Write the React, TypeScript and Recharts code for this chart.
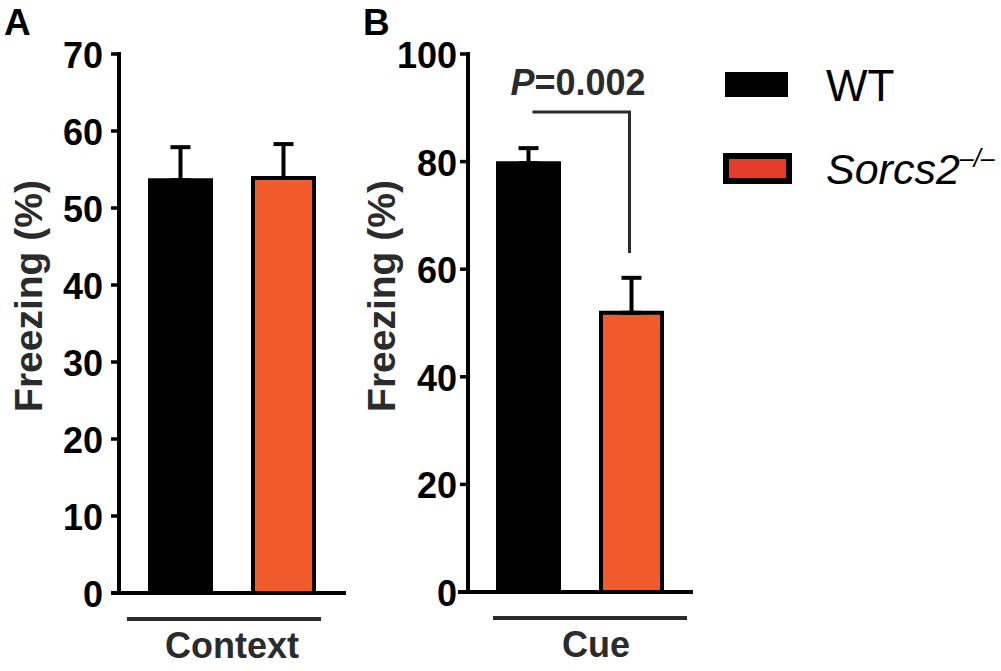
import React from "react";
import { BarChart, Bar, XAxis, YAxis, ErrorBar, Legend } from "recharts";

// values (mean and SEM, % freezing)
const groups = ["Context", "Cue"];
const seriesNames = ["WT", "Sorcs2"];
const wtMean = [53.6, 79.7];
const wtSem = [4.3, 2.8];
const koMean = [53.9, 51.9];
const koSem = [4.4, 6.5];
const ticksA = [0, 10, 20, 30, 40, 50, 60, 70];
const ticksB = [0, 20, 40, 60, 80, 100];
const pValue = "0.002";
const bracketB = [89.2, 63.0]; // bracket height, end of right leg

const FONT = '"Liberation Sans", Arial, Helvetica, sans-serif';
const KO_FILL = "#f15a2b";
const KO_LEGEND = "#e63a2b";
const INK = "#2b2b2b";
const BAR = 61;
const GAP = 42;

const rowFor = (i: number) => ({
  group: groups[i],
  wt: wtMean[i],
  ko: koMean[i],
  wtErr: [0, wtSem[i]],
  koErr: [0, koSem[i]],
});
const dataA = [rowFor(0)];
const dataB = [rowFor(1)];

function YTick(props: any) {
  const { x, y, payload, shift, gap } = props;
  const ax = x + shift;
  return (
    <g>
      <line x1={ax - 8} x2={ax} y1={y} y2={y} stroke="#000" strokeWidth={3.5} />
      <text
        x={ax - gap}
        y={y + 14}
        textAnchor="end"
        fontFamily={FONT}
        fontWeight={700}
        fontSize={36}
        fill="#000"
      >
        {payload.value}
      </text>
    </g>
  );
}

function YLabel({ cx, cy }: { cx: number; cy: number }) {
  return (
    <text
      x={cx}
      y={cy}
      transform={`rotate(-90, ${cx}, ${cy})`}
      textAnchor="middle"
      fontFamily={FONT}
      fontWeight={700}
      fontSize={39}
      fill={INK}
    >
      Freezing (%)
    </text>
  );
}

function GroupLabel(props: any) {
  const { viewBox, text, lineFrom, lineTo, textX } = props;
  const { x, y } = viewBox;
  return (
    <g>
      <line x1={x + lineFrom} x2={x + lineTo} y1={y + 26} y2={y + 26} stroke={INK} strokeWidth={4} />
      <text
        x={x + textX}
        y={y + 65}
        textAnchor="middle"
        fontFamily={FONT}
        fontWeight={700}
        fontSize={36}
        fill={INK}
      >
        {text}
      </text>
    </g>
  );
}

function Bracket(props: any) {
  const { x, y, width, height, value } = props;
  if (!value) return null;
  const base = y + height;
  const k = height / value;
  const right = x + width / 2 - 2;
  const left = right - (BAR + GAP) + 6;
  const top = base - bracketB[0] * k;
  const bottom = base - bracketB[1] * k;
  return (
    <g>
      <polyline
        points={`${left},${top} ${right},${top} ${right},${bottom}`}
        fill="none"
        stroke={INK}
        strokeWidth={3}
      />
      <text
        x={(left + right) / 2 - 3}
        y={top - 17}
        textAnchor="middle"
        fontFamily={FONT}
        fontWeight={700}
        fontSize={36}
        fill={INK}
      >
        <tspan fontStyle="italic">P</tspan>={pValue}
      </text>
    </g>
  );
}

function LegendBox(props: any) {
  const payload = props.payload || [];
  const entries = seriesNames
    .map((n) => payload.find((e: any) => e.value === n))
    .filter(Boolean);
  return (
    <svg width={278} height={200} style={{ display: "block" }}>
      {entries.map((entry: any, i: number) => {
        const top = i === 0 ? 72 : 156;
        return (
          <g key={entry.value}>
            {i === 0 ? (
              <rect x={2} y={top} width={63} height={25} fill="#000" />
            ) : (
              <rect x={3} y={top} width={63} height={25} fill={KO_LEGEND} stroke="#000" strokeWidth={6} />
            )}
            <text
              x={103}
              y={i === 0 ? 101 : 184}
              fontFamily={FONT}
              fontSize={i === 0 ? 44 : 43}
              fontStyle={i === 0 ? "normal" : "italic"}
              fill="#000"
            >
              {entry.value}
              {i === 1 && (
                <tspan fontSize={25} dy={-17}>
                  –/–
                </tspan>
              )}
            </text>
          </g>
        );
      })}
    </svg>
  );
}

function Panel(props: any) {
  const { data, ticks, max, width, yWidth, right, xHeight, shift, gap, pad, label, labelX, group, withLegend } = props;
  return (
    <BarChart
      width={width}
      height={671}
      data={data}
      margin={{ top: 54, right, bottom: 0, left: 0 }}
      barGap={GAP}
      barSize={BAR}
    >
      <XAxis
        dataKey="group"
        tick={false}
        tickLine={false}
        height={xHeight}
        padding={pad}
        axisLine={{ stroke: "#000", strokeWidth: 4 }}
        label={{ content: (p: any) => <GroupLabel {...p} {...group} /> }}
      />
      <YAxis
        domain={[0, max]}
        ticks={ticks}
        interval={0}
        width={yWidth}
        tickSize={0}
        tickMargin={0}
        tickLine={false}
        axisLine={{ stroke: "#000", strokeWidth: 4, strokeLinecap: "square", transform: `translate(${shift},0)` }}
        tick={(p: any) => <YTick {...p} shift={shift} gap={gap} />}
        label={{ content: () => <YLabel cx={labelX} cy={296} /> }}
      />
      {withLegend && (
        <Legend
          layout="vertical"
          align="center"
          verticalAlign="middle"
          wrapperStyle={{ left: 363, top: 0, width: 278, height: 200 }}
          content={(p: any) => <LegendBox {...p} />}
        />
      )}
      <Bar dataKey="wt" name={seriesNames[0]} fill="#000" stroke="#000" strokeWidth={4} isAnimationActive={false}>
        <ErrorBar dataKey="wtErr" direction="y" width={10} stroke="#000" strokeWidth={4} isAnimationActive={false} />
      </Bar>
      <Bar
        dataKey="ko"
        name={seriesNames[1]}
        fill={KO_FILL}
        stroke="#000"
        strokeWidth={4}
        isAnimationActive={false}
        label={label}
      >
        <ErrorBar dataKey="koErr" direction="y" width={10} stroke="#000" strokeWidth={4} isAnimationActive={false} />
      </Bar>
    </BarChart>
  );
}

export default function App() {
  return (
    <div
      style={{
        position: "absolute",
        left: 0,
        top: 0,
        width: 1001,
        height: 671,
        background: "#fff",
        fontFamily: FONT,
        overflow: "hidden",
      }}
    >
      <div style={{ position: "absolute", left: 0, top: 0 }}>
        <Panel
          data={dataA}
          ticks={ticksA}
          max={70}
          width={360}
          yWidth={111}
          right={14}
          xHeight={78}
          shift={8}
          gap={16}
          pad={{ left: 6, right: 0 }}
          labelX={42}
          group={{ text: groups[0], lineFrom: 16, lineTo: 210, textX: 121 }}
        />
      </div>
      <div style={{ position: "absolute", left: 360, top: 0 }}>
        <Panel
          data={dataB}
          ticks={ticksB}
          max={100}
          width={641}
          yWidth={98}
          right={308}
          xHeight={79}
          shift={10}
          gap={11}
          pad={{ left: 8, right: 0 }}
          labelX={35}
          label={(p: any) => <Bracket {...p} />}
          group={{ text: groups[1], lineFrom: 35, lineTo: 229, textX: 138 }}
          withLegend
        />
      </div>
      <svg
        width={1001}
        height={671}
        style={{ position: "absolute", left: 0, top: 0, pointerEvents: "none" }}
      >
        <text x={4} y={35} fontFamily={FONT} fontWeight={700} fontSize={37} fill="#000">
          A
        </text>
        <text x={363} y={35} fontFamily={FONT} fontWeight={700} fontSize={37} fill="#000">
          B
        </text>
      </svg>
    </div>
  );
}
